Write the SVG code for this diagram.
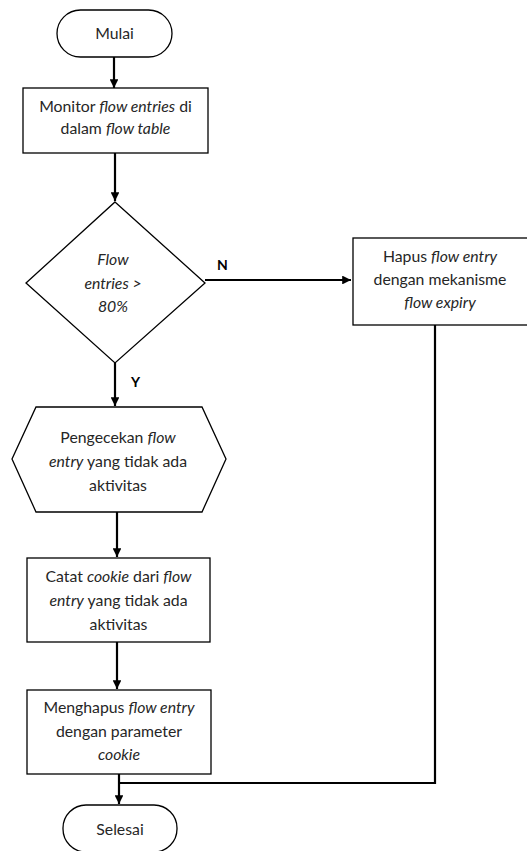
<svg xmlns="http://www.w3.org/2000/svg" width="527" height="851" viewBox="0 0 527 851">
<style>
.shape{fill:#fff;stroke:#000;stroke-width:1.3}
.t{font-family:Lato,"Open Sans","Liberation Sans",sans-serif;font-size:15.8px;fill:#262626;text-anchor:middle}
.i{font-style:italic}
.lbl{font-family:Lato,"Liberation Sans",sans-serif;font-size:14px;font-weight:bold;fill:#000}
.c{fill:none;stroke:#000;stroke-width:2.2}
</style>
<defs>
<marker id="ah" viewBox="0 0 10 10" refX="10" refY="5" markerWidth="4" markerHeight="4" orient="auto" markerUnits="strokeWidth">
<path d="M0,0 L10,5 L0,10 z" fill="#000"/>
</marker>
</defs>
<rect width="527" height="851" fill="#fff"/>
<g id="connectors">
<path class="c" d="M114,57 V88" marker-end="url(#ah)"/>
<path class="c" d="M115,153 V201" marker-end="url(#ah)"/>
<path class="c" d="M205,280 H351" marker-end="url(#ah)"/>
<path class="c" d="M115,363 V406" marker-end="url(#ah)"/>
<path class="c" d="M117,512 V557" marker-end="url(#ah)"/>
<path class="c" d="M117,642 V689" marker-end="url(#ah)"/>
<path class="c" d="M119,774 V804" marker-end="url(#ah)"/>
<path class="c" d="M435,325 V783 H118"/>
<text class="lbl" x="217" y="270">N</text>
<text class="lbl" x="131" y="387">Y</text>
</g>
<g id="mulai">
<rect class="shape" x="57" y="10" width="115" height="47" rx="23.5"/>
<text class="t" x="114.5" y="39">Mulai</text>
</g>
<g id="monitor">
<rect class="shape" x="23" y="88" width="185" height="65"/>
<text class="t" x="115.5" y="112">Monitor <tspan class="i">flow entries</tspan> di</text>
<text class="t" x="115.5" y="134">dalam <tspan class="i">flow table</tspan></text>
</g>
<g id="decision">
<polygon class="shape" points="115,202 205,283 115,363 26,283"/>
<text class="t i" x="113" y="265">Flow</text>
<text class="t i" x="113" y="289">entries &gt;</text>
<text class="t i" x="113" y="312">80%</text>
</g>
<g id="hapus">
<rect class="shape" x="353" y="238" width="178" height="87"/>
<text class="t" x="440" y="262"><tspan>Hapus </tspan><tspan class="i">flow entry</tspan></text>
<text class="t" x="440" y="285">dengan mekanisme</text>
<text class="t i" x="440" y="308">flow expiry</text>
</g>
<g id="pengecekan">
<polygon class="shape" points="36,407 202,407 226,459 202,512 36,512 12,459"/>
<text class="t" x="118" y="443">Pengecekan <tspan class="i">flow</tspan></text>
<text class="t" x="118" y="467"><tspan class="i">entry</tspan> yang tidak ada</text>
<text class="t" x="118" y="491">aktivitas</text>
</g>
<g id="catat">
<rect class="shape" x="27" y="558" width="183" height="84"/>
<text class="t" x="118.5" y="582">Catat <tspan class="i">cookie</tspan> dari <tspan class="i">flow</tspan></text>
<text class="t" x="118.5" y="606"><tspan class="i">entry</tspan> yang tidak ada</text>
<text class="t" x="118.5" y="630">aktivitas</text>
</g>
<g id="menghapus">
<rect class="shape" x="27" y="690" width="184" height="84"/>
<text class="t" x="119" y="713">Menghapus <tspan class="i">flow entry</tspan></text>
<text class="t" x="119" y="737">dengan parameter</text>
<text class="t i" x="119" y="760">cookie</text>
</g>
<g id="selesai">
<rect class="shape" x="63" y="805" width="114" height="47" rx="23"/>
<text class="t" x="120" y="835">Selesai</text>
</g>
</svg>
